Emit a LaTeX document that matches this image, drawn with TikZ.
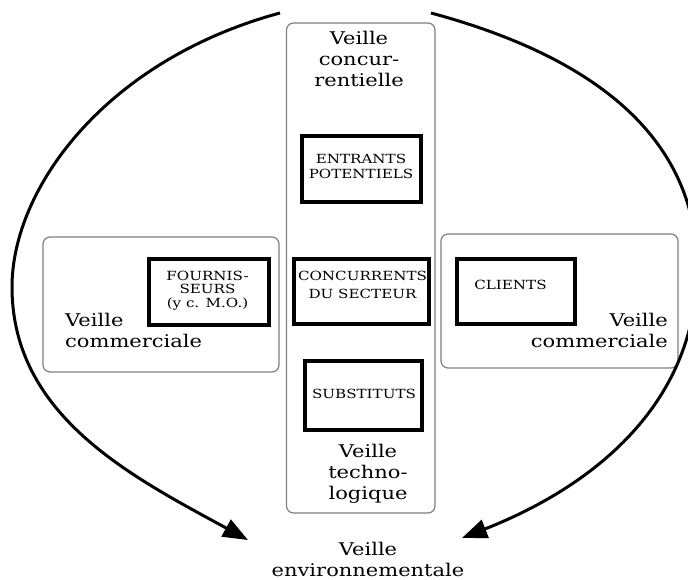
\documentclass[tikz,border=0pt]{standalone}
\usepackage{fontspec}
\setmainfont{DejaVu Serif}[FakeStretch=1.2]
\usetikzlibrary{arrows.meta}
\begin{document}
\begin{tikzpicture}[x=1pt,y=-1pt,
  zone/.style={draw=black!50, line width=1.2pt, rounded corners=7pt, inner sep=0pt},
  actor/.style={draw=black, line width=4pt, inner sep=0pt},
  bigtext/.style={font=\fontsize{17.5}{21}\selectfont, inner sep=0pt},
  smalltext/.style={font=\fontsize{12.6}{15}\selectfont, inner sep=0pt, align=center},
  flow/.style={line width=3pt, -{Triangle[length=25pt,width=19pt]}}
]
\useasboundingbox (0,0) rectangle (688,580);

% watch zones
\node[zone, minimum width=148.5pt, minimum height=490pt] (zcentre) at (360.75,268) {};
\node[zone, minimum width=236pt, minimum height=135pt] (zleft) at (161,304.5) {};
\node[zone, minimum width=237pt, minimum height=134pt] (zright) at (559.5,301) {};

% competitive forces
\node[actor, minimum width=118.7pt, minimum height=66pt] (bentr) at (361.35,169) {};
\node[actor, minimum width=135.6pt, minimum height=65.3pt] (bconc) at (361.5,291.35) {};
\node[actor, minimum width=117.3pt, minimum height=68.4pt] (bsubs) at (363.35,395.5) {};
\node[actor, minimum width=119.4pt, minimum height=66.6pt] (bfour) at (209,292) {};
\node[actor, minimum width=118.6pt, minimum height=65pt] (bcli) at (516,291.8) {};

\node[smalltext] (lentr) at (361,166.4) {ENTRANTS\\POTENTIELS};
\node[smalltext, font=\fontsize{12.6}{18}\selectfont] (lconc) at (362.5,284.6) {CONCURRENTS\\DU SECTEUR};
\node[smalltext] (lsubs) at (364,394) {SUBSTITUTS};
\node[smalltext, font=\fontsize{12.6}{13.5}\selectfont] (lfour) at (207.5,290.5) {FOURNIS-\\SEURS\\(y c. M.O.)};
\node[smalltext] (lcli) at (510.5,284.6) {CLIENTS};

% zone titles
\node[bigtext, align=center] (tconc) at (359,59.3) {Veille\\concur-\\rentielle};
\node[bigtext, align=center] (ttech) at (368,473.9) {Veille\\techno-\\logique};
\node[bigtext, align=center] (tenv) at (368,559.9) {Veille\\environnementale};
\node[bigtext, align=left, anchor=west] (tcomL) at (65,330.8) {Veille\\commerciale};
\node[bigtext, align=right, anchor=east] (tcomR) at (668,330.8) {Veille\\commerciale};

% the two sweeping arcs toward the environment
\coordinate (lstart) at (280,13);
\coordinate (lside) at (12,287);
\coordinate (ltip) at (248,540);
\coordinate (rstart) at (431,13);
\coordinate (rside) at (697,268);
\coordinate (rtip) at (462,538);
\begin{scope}
\clip (0,0) rectangle (688,580);
\draw[flow] (lstart) .. controls (106,60) and (12,188) .. (lside)
  .. controls (12,417) and (134,477.6) .. (ltip);
\draw[flow] (rstart) .. controls (624,65) and (697,158) .. (rside)
  .. controls (697,398) and (601.5,483.1) .. (rtip);
\end{scope}
\end{tikzpicture}
\end{document}
